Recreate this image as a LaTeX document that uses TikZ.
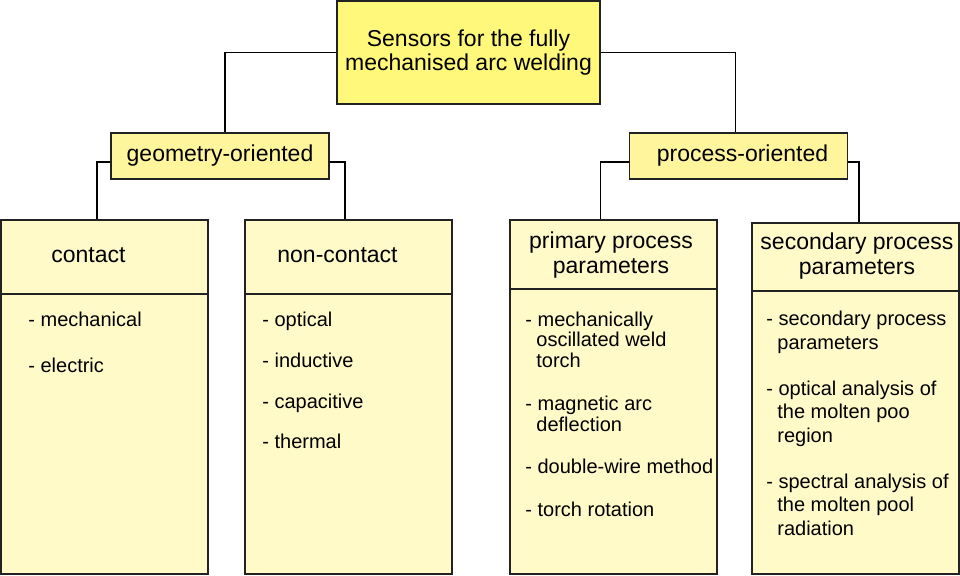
\documentclass[tikz,border=0pt]{standalone}
\usepackage{fontspec}
\setmainfont{Liberation Sans}
\usetikzlibrary{positioning, calc}

\definecolor{topyellow}{HTML}{FFF87A}
\definecolor{midyellow}{HTML}{FFF59C}
\definecolor{lowyellow}{HTML}{FFFAC8}
\definecolor{edgegrey}{HTML}{222222}

\begin{document}
\begin{tikzpicture}[x=0.5pt, y=-0.5pt,
    box/.style={draw=edgegrey, line width=0.8pt, inner sep=0pt},
    headbox/.style={box, fill=midyellow, minimum width=109pt, minimum height=23pt, font=\fontsize{11.5}{12}\selectfont},
    colbox/.style={box, fill=lowyellow, minimum width=103.5pt, minimum height=177pt},
    coltitle/.style={inner sep=0pt, font=\fontsize{11.5}{12.5}\selectfont},
    entry/.style={anchor=base west, align=left, inner sep=0pt, font=\fontsize{10}{10.25}\selectfont},
    link/.style={draw=black, line width=0.8pt}]
\useasboundingbox (0,0) rectangle (960,575);

% top and the two groups
\node[box, fill=topyellow, minimum width=131.5pt, minimum height=51.5pt, align=center,
      font=\fontsize{11.5}{12}\selectfont] (sensors) at (468.5,52.5) {Sensors for the fully\\mechanised arc welding};
\node[headbox] (geo) at (220,156) {geometry-oriented};
\node[headbox] (proc) at (738.5,156) {\hspace*{4pt}process-oriented};

% columns
\node[colbox] (contact) at (104.5,397) {};
\node[colbox] (noncontact) at (348.5,397) {};
\node[colbox] (primary) at (613.5,397) {};
\node[colbox, minimum height=175.5pt] (secondary) at (855.5,398.5) {};
\foreach \col/\dy in {contact/75, noncontact/75, primary/70, secondary/69}
    \draw[box] ($(\col.north west)+(0,\dy)$) -- ($(\col.north east)+(0,\dy)$);

% connectors
\draw[link] (sensors.west) -| ($(geo.north)+(5,0)$);
\draw[link] (sensors.east) -| ($(proc.north)+(-3,0)$);
\draw[link] ($(geo.west)+(0,6)$) -| ($(contact.north)+(-7.5,0)$);
\draw[link] ($(geo.east)+(0,6)$) -| ($(noncontact.north)+(-3.5,0)$);
\draw[link] ($(proc.west)+(0,6)$) -| ($(primary.north)+(-13,0)$);
\draw[link] ($(proc.east)+(0,6)$) -| ($(secondary.north)+(3.5,0)$);

% column titles
\node[coltitle, anchor=west] (contacttitle) at (51,255) {contact};
\node[coltitle, anchor=west] (noncontacttitle) at (277,255) {non-contact};
\node[coltitle, align=center] (primarytitle) at (611,255.5) {primary process\\parameters};
\node[coltitle, align=center] (secondarytitle) at (857,256.5) {secondary process\\parameters};

% entries (multi-line ones sit on their last line)
\foreach \y/\txt [count=\i] in {326/mechanical, 372/electric}
    \node[entry] (contact-\i) at (28,\y) {- \txt};
\foreach \y/\txt [count=\i] in {326/optical, 367/inductive, 408/capacitive, 448/thermal}
    \node[entry] (noncontact-\i) at (262,\y) {- \txt};
\node[entry] (primary-1) at (525,367) {- mechanically\\\hspace*{5.5pt}oscillated weld\\\hspace*{5.5pt}torch};
\node[entry] (primary-2) at (525,431) {- magnetic arc\\\hspace*{5.5pt}deflection};
\node[entry] (primary-3) at (525,473) {- double-wire method};
\node[entry] (primary-4) at (525,516) {- torch rotation};
\node[entry, font=\fontsize{10}{11.75}\selectfont] (secondary-1) at (766,349) {- secondary process\\\hspace*{5.5pt}parameters};
\node[entry, font=\fontsize{10}{11.75}\selectfont] (secondary-2) at (766,442) {- optical analysis of\\\hspace*{5.5pt}the molten poo\\\hspace*{5.5pt}region};
\node[entry, font=\fontsize{10}{11.75}\selectfont] (secondary-3) at (766,535) {- spectral analysis of\\\hspace*{5.5pt}the molten pool\\\hspace*{5.5pt}radiation};
\end{tikzpicture}
\end{document}
